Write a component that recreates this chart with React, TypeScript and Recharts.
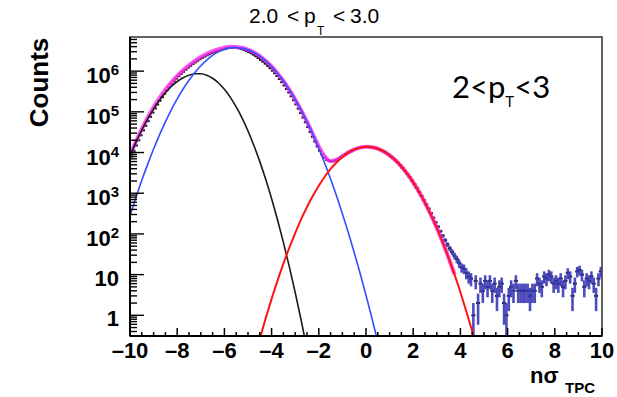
import React from 'react';
import { ComposedChart, Line, Scatter, XAxis, YAxis, ErrorBar, ReferenceArea } from 'recharts';

// ---- fit curves (sampled on a 0.25 grid in n-sigma) ----
const FIT_X = [-10, -9.75, -9.5, -9.25, -9, -8.75, -8.5, -8.25, -8, -7.75, -7.5, -7.25, -7, -6.75, -6.5, -6.25, -6, -5.75, -5.5, -5.25, -5, -4.75, -4.5, -4.25, -4, -3.75, -3.5, -3.25, -3, -2.75, -2.5, -2.25, -2, -1.75, -1.5, -1.25, -1, -0.75, -0.5, -0.25, 0, 0.25, 0.5, 0.75, 1, 1.25, 1.5, 1.75, 2, 2.25, 2.5, 2.75, 3, 3.25, 3.5, 3.75, 4, 4.25, 4.5, 4.75];

const FIT_BLACK = [8260, 17800, 35800, 67300, 118000, 193000, 294000, 419000, 556000, 689000, 797000, 860000, 865000, 796000, 668000, 511000, 357000, 227000, 132000, 70000, 33800, 14900, 5980, 2190, 733, 223, 62, 15.7, 3.64, 0.767, 0.148,
  null, null, null, null, null, null, null, null, null, null, null, null, null, null, null, null, null, null, null, null, null, null, null, null, null, null, null, null, null];

const FIT_BLUE = [278, 783, 2080, 5190, 12200, 27200, 56800, 112000, 207000, 363000, 598000, 929000, 1360000, 1870000, 2430000, 2970000, 3420000, 3720000, 3800000, 3670000, 3340000, 2880000, 2340000, 1800000, 1300000, 891000, 575000, 352000, 202000, 110000, 56600, 27500, 12600, 5460, 2230, 861, 313, 108, 35.1, 10.8, 3.12, 0.855, 0.221,
  null, null, null, null, null, null, null, null, null, null, null, null, null, null, null, null, null];

const FIT_RED = [null, null, null, null, null, null, null, null, null, null, null, null, null, null, null, null, null, null, null, null, null, null,
  0.264, 0.845, 2.53, 7.1, 18.6, 45.7, 105, 227, 458, 865, 1530, 2540, 3940, 5710, 7780, 9910, 11800, 13200, 13800, 13500, 12400, 10600, 8550, 6430, 4540, 2990, 1850, 1070, 580, 294, 140, 62.2, 25.9, 10.1, 3.69, 1.26, 0.405, 0.121];

const FIT_TOTAL = [8540, 18600, 37900, 72500, 130000, 220000, 351000, 531000, 763000, 1052000, 1395000, 1789000, 2225000, 2666000, 3098000, 3481000, 3777000, 3947000, 3932000, 3740000, 3374000, 2895000, 2346000, 1802000, 1301000, 891000, 575000, 352000, 202000, 110200, 57100, 28400, 14100, 8000, 6170, 6570, 8090, 10020, 11840, 13210, 13800, 13500, 12400, 10600, 8550, 6430, 4540, 2990, 1850, 1070, 580, 294, 140, 62.2, 25.9, 10.1, null, null, null, null];

// ---- histogram: 200 bins of width 0.1 from -10 to 10 ----
const HIST_MIN = -10;
const HIST_BIN_WIDTH = 0.1;
const HIST_COUNTS = [
  8000, 11000, 14900, 20000, 26500, 35000, 45500, 59000, 75500, 96000,
  121000, 151000, 187000, 229000, 279000, 337000, 402000, 477000, 562000, 656000,
  751000, 856000, 968000, 1089000, 1217000, 1352000, 1496000, 1646000, 1801000, 1963000,
  2126000, 2291000, 2453000, 2614000, 2771000, 2924000, 3069000, 3205000, 3325000, 3468000,
  3595000, 3701000, 3784000, 3803000, 3792000, 3712000, 3607000, 3476000, 3322000, 3149000,
  2959000, 2756000, 2545000, 2329000, 2111000, 1898000, 1708000, 1526000, 1351000, 1185000,
  1029000, 887000, 757000, 640000, 536000, 445000, 366000, 299000, 241000, 193000,
  153000, 120000, 93800, 72500, 55600, 42300, 32000, 24400, 18600, 14200,
  11100, 8980, 7510, 6610, 6180, 6110, 6230, 6580, 7090, 7730,
  8460, 9220, 10020, 10780, 11500, 12160, 12740, 13190, 13540, 13740,
  13800, 13720, 13500, 13140, 12660, 12070, 11390, 10630, 9820, 8970,
  8120, 7260, 6430, 5640, 4890, 4200, 3560, 2990, 2490, 2050,
  1670, 1350, 1080, 860, 680, 535, 420, 325, 250, 192,
  150, 116, 90, 70, 55, 44, 36, 29, 24, 19,
  15, 14, 11, 9, 8, 1, 7, 2, 6, 4,
  7, 5, 7, 4, 6, 3, 5, 6, 2, 1,
  3, 5, 4, 7, 4, 4, 4, 4, 4, 3,
  4, 4, 8, 6, 5, 9, 8, 10, 9, 6,
  7, 6, 8, 5, 7, 11, 9, 3, 6, 12,
  13, 10, 5, 8, 7, 9, 6, 3, 8, 12,
];

// ---- axes ----
const X_DOMAIN = [-10, 10];
const X_MAJOR = [-10, -8, -6, -4, -2, 0, 2, 4, 6, 8, 10];
const X_LABELS = ['\u201310', '\u20138', '\u20136', '\u20134', '\u20132', '0', '2', '4', '6', '8', '10'];
const X_MINOR_STEP = 0.5;

const Y_DOMAIN = [0.31, 6.9e6];
const Y_MAJOR = [1, 10, 100, 1e3, 1e4, 1e5, 1e6];
const Y_LABEL_BASE = ['1', '10', '10', '10', '10', '10', '10'];
const Y_LABEL_EXP = ['', '', '2', '3', '4', '5', '6'];
const Y_MINOR_MULT = [2, 3, 4, 5, 6, 7, 8, 9];

const xTicks: number[] = [];
for (let i = 0; i <= (X_DOMAIN[1] - X_DOMAIN[0]) / X_MINOR_STEP; i++) {
  xTicks.push(X_DOMAIN[0] + i * X_MINOR_STEP);
}
const yTicks: number[] = [];
[0.1, ...Y_MAJOR].forEach((d) => {
  if (d >= Y_DOMAIN[0] && d <= Y_DOMAIN[1]) yTicks.push(d);
  Y_MINOR_MULT.forEach((m) => {
    const v = m * d;
    if (v >= Y_DOMAIN[0] && v <= Y_DOMAIN[1] && !Y_MAJOR.some((M) => Math.abs(M - v) / M < 1e-6)) yTicks.push(v);
  });
});

const fitData = FIT_X.map((x, i) => ({
  x,
  black: FIT_BLACK[i],
  blue: FIT_BLUE[i],
  red: FIT_RED[i],
  total: FIT_TOTAL[i],
}));

// Poisson error bars; the lower end is stopped at the bottom of the axis range
const histData = HIST_COUNTS.map((n, i) => {
  const s = Math.sqrt(n);
  return {
    x: HIST_MIN + (i + 0.5) * HIST_BIN_WIDTH,
    y: n,
    err: [Math.min(s, n - Y_DOMAIN[0]), s],
  };
});

const ROOT_FONT = '"Liberation Sans", Arial, Helvetica, sans-serif';

const XTick = (props: any) => {
  const { x, y, payload } = props;
  const v = payload.value;
  const mi = X_MAJOR.findIndex((m) => Math.abs(m - v) < 1e-6);
  const major = mi >= 0;
  return (
    <g>
      <line x1={x} x2={x} y1={y} y2={y - (major ? 8 : 4)} stroke="#000" strokeWidth={1.5} />
      {major && (
        <text x={x} y={y + 22} textAnchor="middle" fontFamily={ROOT_FONT} fontWeight="bold" fontSize={22} fill="#000">
          {X_LABELS[mi]}
        </text>
      )}
    </g>
  );
};

const YTick = (props: any) => {
  const { x, y, payload } = props;
  const v = payload.value;
  const mi = Y_MAJOR.findIndex((m) => Math.abs(m - v) / m < 1e-6);
  const major = mi >= 0;
  return (
    <g>
      <line x1={x} x2={x + (major ? 14 : 7)} y1={y} y2={y} stroke="#000" strokeWidth={1.4} />
      {major && (
        <text x={x - 11} y={y + (Y_LABEL_EXP[mi] ? 12 : 11)} textAnchor="end" fontFamily={ROOT_FONT} fontWeight="bold" fontSize={22} fill="#000">
          {Y_LABEL_BASE[mi]}
          {Y_LABEL_EXP[mi] ? (
            <tspan dy={-8} fontSize={15}>
              {Y_LABEL_EXP[mi]}
            </tspan>
          ) : null}
        </text>
      )}
    </g>
  );
};

const DataMarker = (props: any) => {
  const { cx, cy } = props;
  if (cx == null || cy == null || !isFinite(cx) || !isFinite(cy)) return <g />;
  return <rect x={cx - 2} y={cy - 1} width={4} height={2} fill="#111" />;
};

export default function App() {
  return (
    <div style={{ position: 'absolute', left: 0, top: 0, width: 617, height: 397, background: '#fff', overflow: 'hidden' }}>
      <ComposedChart width={617} height={397} margin={{ top: 37, right: 15, bottom: 31, left: 100 }}>
        <XAxis
          type="number"
          dataKey="x"
          domain={X_DOMAIN}
          ticks={xTicks}
          interval={0}
          allowDataOverflow
          tick={XTick}
          tickLine={false}
          tickSize={0}
          tickMargin={0}
          height={30}
          axisLine={{ stroke: '#000', strokeWidth: 2 }}
        />
        <YAxis
          type="number"
          scale="log"
          domain={Y_DOMAIN}
          ticks={yTicks}
          interval={0}
          allowDataOverflow
          tick={YTick}
          tickLine={false}
          tickSize={0}
          tickMargin={0}
          width={30}
          axisLine={{ stroke: '#000', strokeWidth: 2 }}
        />
        <ReferenceArea x1={X_DOMAIN[0]} x2={X_DOMAIN[1]} y1={Y_DOMAIN[0]} y2={Y_DOMAIN[1]} fill="none" fillOpacity={0} stroke="#333" strokeWidth={1.5} ifOverflow="visible" />
        <Scatter data={histData} dataKey="y" shape={DataMarker} isAnimationActive={false} zIndex={300}>
          <ErrorBar dataKey="err" direction="y" width={0} stroke="#3838b4" strokeWidth={2.6} strokeOpacity={0.9} />
        </Scatter>
        <Line data={fitData} dataKey="total" type="monotone" stroke="#ff2bf0" strokeWidth={4} strokeOpacity={0.8} dot={false} activeDot={false} isAnimationActive={false} zIndex={400} />
        <Line data={fitData} dataKey="black" type="monotone" stroke="#1a1a1a" strokeWidth={1.6} dot={false} activeDot={false} isAnimationActive={false} zIndex={410} />
        <Line data={fitData} dataKey="blue" type="monotone" stroke="#3050ff" strokeWidth={1.6} dot={false} activeDot={false} isAnimationActive={false} zIndex={420} />
        <Line data={fitData} dataKey="red" type="monotone" stroke="#ff1414" strokeWidth={2} dot={false} activeDot={false} isAnimationActive={false} zIndex={430} />
      </ComposedChart>
      <svg width={617} height={397} style={{ position: 'absolute', left: 0, top: 0, pointerEvents: 'none' }}>
        <g fontFamily={ROOT_FONT} fontSize={21} fill="#000">
          <text x={249} y={23}>2.0</text>
          <text x={287} y={23}>&lt;</text>
          <text x={304} y={23}>p</text>
          <text x={317} y={35} fontSize={12}>T</text>
          <text x={333} y={23}>&lt;</text>
          <text x={350} y={23}>3.0</text>
        </g>
        <text transform="translate(48, 82.5) rotate(-90)" x={0} y={0} textAnchor="middle" fontFamily={ROOT_FONT} fontWeight="bold" fontSize={26} fill="#000">
          Counts
        </text>
        <text x={530} y={383} fontFamily={ROOT_FONT} fontWeight="bold" fontSize={22} fill="#000">
          {'n\u03c3'}
        </text>
        <text x={565} y={393} fontFamily={ROOT_FONT} fontWeight="bold" fontSize={15} fill="#000">
          TPC
        </text>
        <text x={452} y={98} fontFamily="Lato, 'Open Sans', sans-serif" fontSize={31} fill="#000">
          2&lt;p
          <tspan dy={9} fontSize={15}>T</tspan>
          <tspan dy={-9}>&lt;3</tspan>
        </text>
      </svg>
    </div>
  );
}
